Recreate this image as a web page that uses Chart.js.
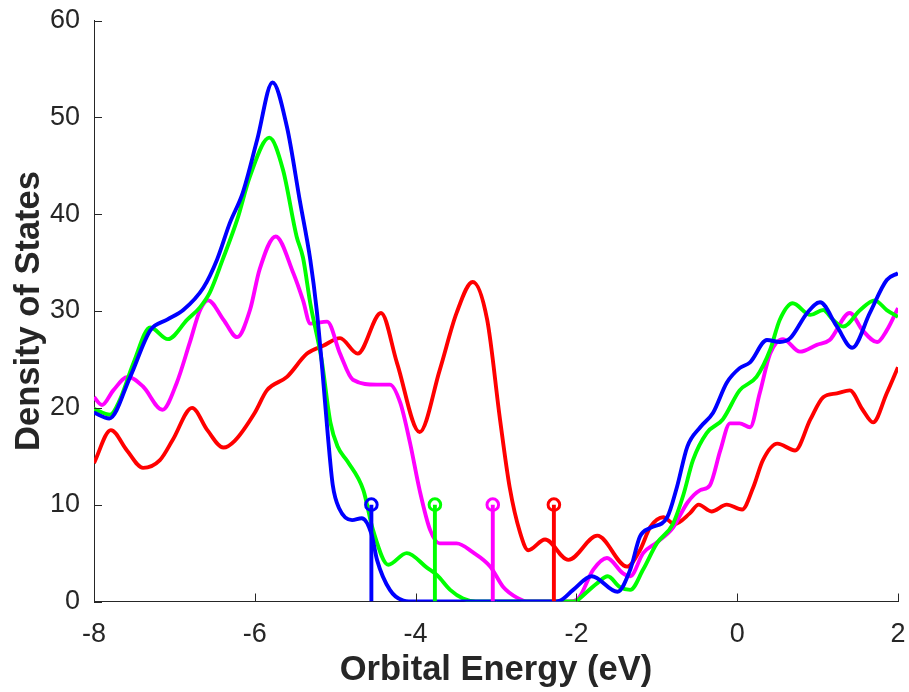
<!DOCTYPE html>
<html>
<head>
<meta charset="utf-8">
<title>Density of States</title>
<script src="https://cdn.jsdelivr.net/npm/chart.js@4.4.1/dist/chart.umd.min.js"></script>
<style>
  html, body { margin: 0; padding: 0; background: #ffffff; }
  #wrap { width: 909px; height: 692px; }
</style>
</head>
<body>
<div id="wrap"><canvas id="dos" width="909" height="692"></canvas></div>
<script>
// Orbital energies (eV) and smoothed density of states for each structure
const energyBlue = [-8.00,-7.81,-7.55,-7.30,-7.09,-6.89,-6.64,-6.47,-6.31,-6.15,-5.97,-5.78,-5.60,-5.44,-5.31,-5.23,-5.16,-5.09,-5.03,-4.95,-4.79,-4.67,-4.55,-4.48,-4.32,-4.15,-4.00,-2.30,-2.20,-2.04,-1.81,-1.49,-1.33,-1.21,-1.08,-0.87,-0.75,-0.62,-0.46,-0.30,-0.13,0.03,0.16,0.37,0.53,0.66,0.87,1.03,1.24,1.43,1.65,1.86,2.00];
const dosBlue    = [19.5,18.9,23.2,28.0,29.1,30.1,32.4,35.3,39.1,42.2,47.7,53.6,49.0,41.4,35.3,30.1,23.9,17.0,12.0,9.6,8.4,8.6,7.0,4.3,1.2,0.1,0,0,0.1,1.2,2.6,1.0,3.3,6.7,7.6,8.7,11.8,16.0,18.0,19.5,22.6,24.1,24.7,27.0,26.8,27.2,29.8,30.9,28.4,26.2,29.8,33.2,33.9];

const energyGreen = [-8.00,-7.80,-7.68,-7.51,-7.30,-7.08,-6.84,-6.68,-6.56,-6.40,-6.22,-6.06,-5.82,-5.65,-5.48,-5.40,-5.31,-5.17,-5.06,-4.97,-4.85,-4.65,-4.53,-4.34,-4.11,-3.86,-3.73,-3.57,-3.41,-3.25,-2.00,-1.96,-1.74,-1.61,-1.46,-1.33,-1.17,-1.00,-0.80,-0.67,-0.55,-0.38,-0.18,0.03,0.24,0.41,0.53,0.69,0.91,1.07,1.19,1.32,1.53,1.71,1.86,2.00];
const dosGreen    = [19.9,19.3,20.8,24.6,28.3,27.1,29.1,30.4,31.9,35.3,39.4,43.9,47.9,44.6,37.7,35.5,30.8,25.0,18.5,16.0,14.5,11.5,7.4,3.8,5.0,3.5,2.7,1.2,0.3,0,0,0.3,1.9,2.6,1.5,1.2,3.3,6.0,8.0,11.0,14.6,17.4,18.8,21.8,23.2,26.0,29.1,30.8,29.6,30.1,29.1,28.4,30.1,31.1,30.1,29.4];

const energyMagenta = [-8.00,-7.90,-7.76,-7.58,-7.39,-7.15,-6.97,-6.81,-6.68,-6.58,-6.39,-6.22,-6.06,-5.94,-5.74,-5.52,-5.40,-5.31,-5.10,-4.94,-4.78,-4.48,-4.32,-4.19,-4.07,-3.95,-3.82,-3.70,-3.49,-3.29,-3.07,-2.91,-2.74,-2.60,-2.10,-1.99,-1.79,-1.62,-1.42,-1.33,-1.17,-1.00,-0.80,-0.62,-0.46,-0.34,-0.21,-0.09,0.03,0.16,0.28,0.41,0.57,0.78,0.99,1.15,1.40,1.56,1.74,1.86,2.00];
const dosMagenta    = [21.1,20.3,21.8,23.2,22.2,19.8,22.6,26.7,30.1,31.1,29.1,27.3,30.1,34.3,37.7,33.9,31.1,28.7,28.9,25.6,22.9,22.4,22.4,20.5,16.4,11.5,7.4,6.0,6.0,5.1,3.6,1.5,0.4,0,0,0.2,3.3,4.5,2.9,2.6,5.0,6.1,7.6,10.2,11.5,12.0,15.6,18.4,18.4,18.0,21.5,25.6,27.1,25.8,26.5,27.0,29.8,28.0,26.8,28.0,30.3];

const energyRed = [-8.00,-7.79,-7.59,-7.39,-7.18,-7.02,-6.78,-6.59,-6.39,-6.25,-6.00,-5.85,-5.60,-5.35,-5.15,-4.94,-4.72,-4.43,-4.23,-3.95,-3.70,-3.49,-3.29,-3.11,-2.95,-2.83,-2.70,-2.60,-2.39,-2.10,-1.74,-1.37,-1.21,-1.08,-0.92,-0.78,-0.59,-0.48,-0.32,-0.13,0.06,0.20,0.32,0.50,0.72,0.91,1.07,1.24,1.40,1.56,1.69,1.86,2.00];
const dosRed    = [14.3,17.7,15.6,13.8,14.6,16.7,20.0,17.7,15.9,16.6,19.5,21.8,23.2,25.6,26.4,27.2,25.6,29.8,24.6,17.5,23.9,29.8,33.0,29.1,18.8,11.8,7.1,5.3,6.4,4.3,6.8,3.6,5.3,7.7,8.7,8.0,9.1,10.0,9.3,10.0,9.5,11.8,14.6,16.3,15.6,18.8,21.1,21.5,21.8,19.8,18.5,21.5,24.2];

// Fermi level of each structure, marked by a stem
const fermiLevels = [-4.55, -3.76, -3.04, -2.28];
const stemColors  = ['#0000ff', '#00ff00', '#ff00ff', '#ff0000'];
const stemHeight  = 10;

// Axis ticks
const xTicks = [-8, -6, -4, -2, 0, 2];
const yTicks = [0, 10, 20, 30, 40, 50, 60];

const pts = (xs, ys) => xs.map((x, i) => ({ x: x, y: ys[i] }));
const AXIS_COLOR = '#262626';
const FONT = "'Liberation Sans', Arial, Helvetica, sans-serif";

function curve(xs, ys, color, order) {
  return {
    data: pts(xs, ys),
    borderColor: color,
    borderWidth: 3.9,
    pointRadius: 0,
    cubicInterpolationMode: 'monotone',
    fill: false,
    order: order
  };
}

const stemSets = fermiLevels.map((ef, i) => ({
  data: [{ x: ef, y: 0 }, { x: ef, y: stemHeight }],
  borderColor: stemColors[i],
  borderWidth: 3.9,
  tension: 0,
  pointRadius: [0, 5.8],
  pointBorderWidth: 3,
  pointBorderColor: stemColors[i],
  pointBackgroundColor: 'rgba(0,0,0,0)',
  order: 0
}));

// Inward-pointing tick marks along the left and bottom axes
const inwardTicks = {
  id: 'inwardTicks',
  afterDatasetsDraw(chart) {
    const { ctx, chartArea, scales } = chart;
    ctx.save();
    ctx.strokeStyle = AXIS_COLOR;
    ctx.lineWidth = 1;
    const len = 8;
    xTicks.forEach(v => {
      const px = Math.round(scales.x.getPixelForValue(v)) + 0.5;
      ctx.beginPath();
      ctx.moveTo(px, chartArea.bottom);
      ctx.lineTo(px, chartArea.bottom - len);
      ctx.stroke();
    });
    yTicks.forEach(v => {
      const py = Math.round(scales.y.getPixelForValue(v)) + 0.5;
      ctx.beginPath();
      ctx.moveTo(chartArea.left, py);
      ctx.lineTo(chartArea.left + len, py);
      ctx.stroke();
    });
    ctx.restore();
  }
};

new Chart(document.getElementById('dos'), {
  type: 'line',
  data: {
    datasets: [
      curve(energyRed, dosRed, '#ff0000', 4),
      curve(energyMagenta, dosMagenta, '#ff00ff', 3),
      curve(energyGreen, dosGreen, '#00ff00', 2),
      curve(energyBlue, dosBlue, '#0000ff', 1),
      ...stemSets
    ]
  },
  options: {
    responsive: false,
    animation: false,
    devicePixelRatio: 1,
    layout: { padding: { top: 20.5, right: 11, bottom: 0, left: 0 } },
    plugins: { legend: { display: false }, tooltip: { enabled: false } },
    scales: {
      x: {
        type: 'linear',
        min: -8, max: 2,
        afterFit(scale) {
          scale.height = 90.5;
          scale.paddingLeft = 0;
          scale.paddingRight = 0;
        },
        afterBuildTicks(scale) { scale.ticks = xTicks.map(v => ({ value: v })); },
        ticks: { color: AXIS_COLOR, font: { family: FONT, size: 27 }, padding: 17, maxRotation: 0 },
        grid: { display: true, drawOnChartArea: false, drawTicks: false },
        border: { display: true, color: AXIS_COLOR, width: 1 },
        title: { display: true, text: 'Orbital Energy (eV)', color: AXIS_COLOR,
                 font: { family: FONT, size: 34.5, weight: 'bold' }, padding: { top: 0, bottom: 1 } }
      },
      y: {
        type: 'linear',
        min: 0, max: 60,
        afterFit(scale) {
          scale.width = 94;
          scale.paddingTop = 0;
          scale.paddingBottom = 0;
        },
        afterBuildTicks(scale) { scale.ticks = yTicks.map(v => ({ value: v })); },
        ticks: { color: AXIS_COLOR, font: { family: FONT, size: 27 }, padding: 14 },
        grid: { display: true, drawOnChartArea: false, drawTicks: false },
        border: { display: true, color: AXIS_COLOR, width: 1 },
        title: { display: true, text: 'Density of States', color: AXIS_COLOR,
                 font: { family: FONT, size: 34.5, weight: 'bold' }, padding: { top: 9, bottom: 0 } }
      }
    }
  },
  plugins: [inwardTicks]
});
</script>
</body>
</html>
